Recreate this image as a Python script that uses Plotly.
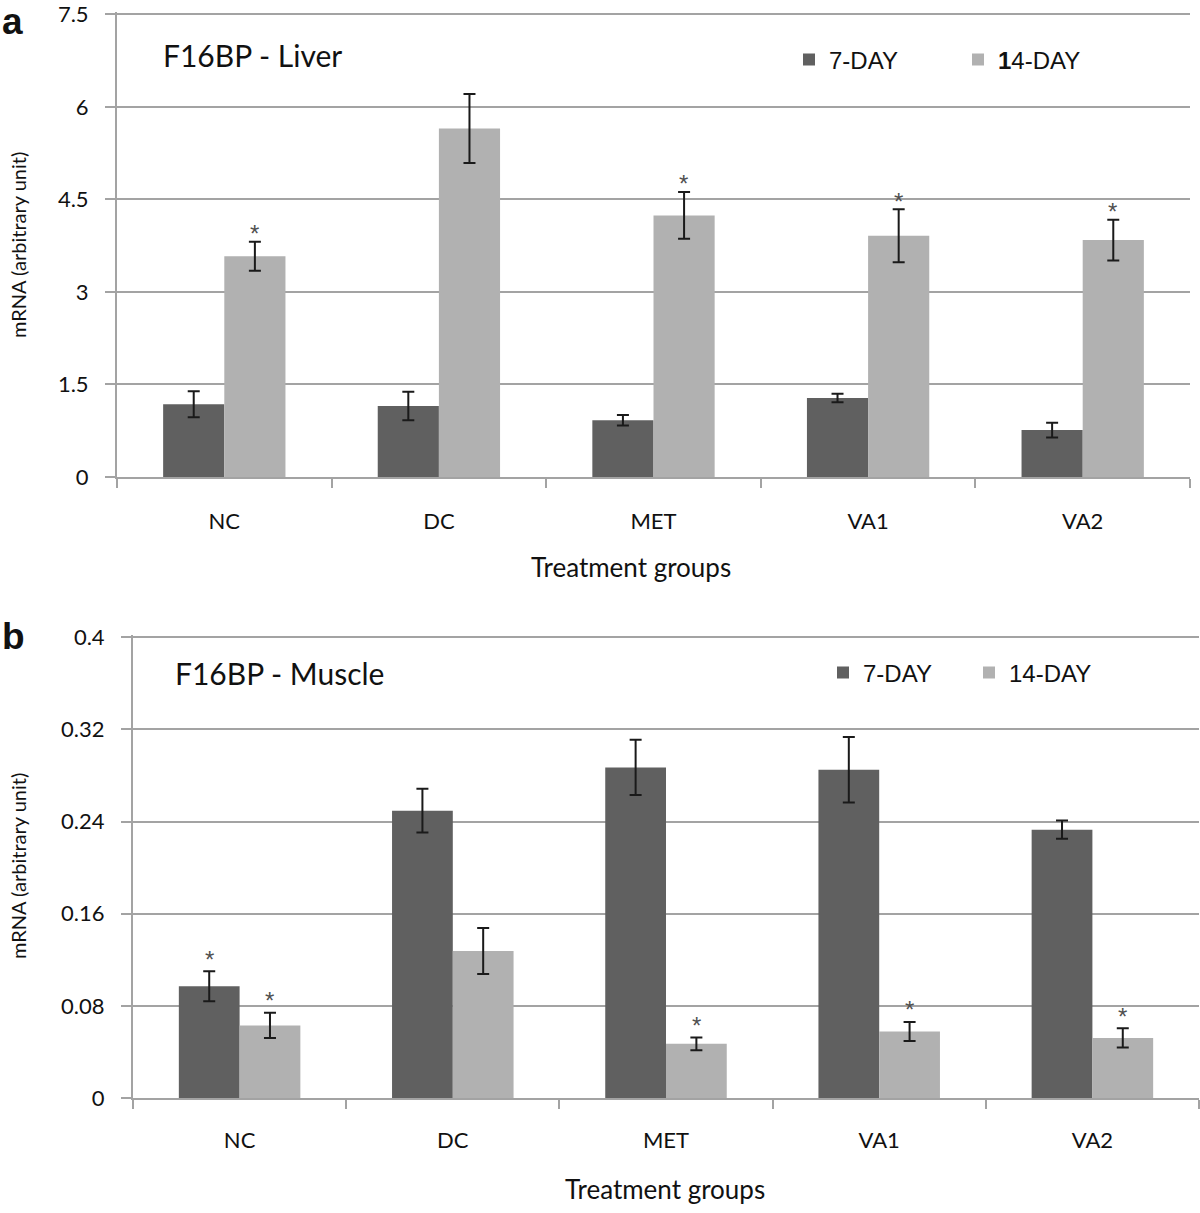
import plotly.graph_objects as go

groups = ["NC", "DC", "MET", "VA1", "VA2"]

# Panel a: F16BP - Liver
liver_7 = [1.18, 1.15, 0.92, 1.28, 0.76]
liver_7_err = [0.21, 0.23, 0.085, 0.068, 0.118]
liver_14 = [3.58, 5.65, 4.24, 3.91, 3.84]
liver_14_err = [0.235, 0.56, 0.38, 0.43, 0.33]
liver_7_sig = [False, False, False, False, False]
liver_14_sig = [True, False, True, True, True]

# Panel b: F16BP - Muscle
muscle_7 = [0.097, 0.2495, 0.287, 0.285, 0.233]
muscle_7_err = [0.013, 0.019, 0.024, 0.0285, 0.008]
muscle_14 = [0.063, 0.1276, 0.047, 0.0577, 0.0522]
muscle_14_err = [0.011, 0.02, 0.0055, 0.0083, 0.0083]
muscle_7_sig = [True, False, False, False, False]
muscle_14_sig = [True, False, True, True, True]

liver_ticks = [0, 1.5, 3, 4.5, 6, 7.5]
muscle_ticks = [0, 0.08, 0.16, 0.24, 0.32, 0.4]

DARK = "#606060"
LIGHT = "#b1b1b1"
GRID = "#a3a3a3"
FONT = "Lato"
W, H = 1200, 1213


def px(x):
    return x / W


def py(y):
    return 1 - y / H


fig = go.Figure()


def add_pair(vals7, err7, vals14, err14, xa, ya, leg):
    fig.add_trace(go.Bar(x=groups, y=vals7, name="7-DAY", marker_color=DARK,
                         marker_line_width=0, xaxis=xa, yaxis=ya, legend=leg,
                         error_y=dict(type="data", array=err7, color="#1a1a1a",
                                      thickness=2, width=6)))
    fig.add_trace(go.Bar(x=groups, y=vals14, name=("<b>1</b>4-DAY" if leg == "legend" else "14-DAY"),
                         marker_color=LIGHT,
                         marker_line_width=0, xaxis=xa, yaxis=ya, legend=leg,
                         error_y=dict(type="data", array=err14, color="#1a1a1a",
                                      thickness=2, width=6)))


add_pair(liver_7, liver_7_err, liver_14, liver_14_err, "x", "y", "legend")
add_pair(muscle_7, muscle_7_err, muscle_14, muscle_14_err, "x2", "y2", "legend2")

annotations = []


def add_stars(vals, errs, sigs, xref, yref, xshift, yshift):
    for g, v, e, s in zip(groups, vals, errs, sigs):
        if s:
            annotations.append(dict(x=g, y=v + e, xref=xref, yref=yref, text="*",
                                    showarrow=False, xshift=xshift, yshift=yshift,
                                    yanchor="middle",
                                    font=dict(family="Liberation Sans", size=24, color="#505050")))


add_stars(liver_7, liver_7_err, liver_7_sig, "x", "y", -31, 8)
add_stars(liver_14, liver_14_err, liver_14_sig, "x", "y", 30, 8)
add_stars(muscle_7, muscle_7_err, muscle_7_sig, "x2", "y2", -30, 12)
add_stars(muscle_14, muscle_14_err, muscle_14_sig, "x2", "y2", 30, 12)


def txt(x, y, text, size, rot=0, bold=False, fam=FONT, xanchor="center", yanchor="middle"):
    annotations.append(dict(x=px(x), y=py(y), xref="paper", yref="paper",
                            text=("<b>%s</b>" % text if bold else text), showarrow=False,
                            textangle=rot, xanchor=xanchor, yanchor=yanchor,
                            font=dict(family=fam, size=size, color="#111111")))


txt(0, 22, "a", 37, bold=True, fam="Liberation Sans", xanchor="left")
txt(0, 636, "b", 37, bold=True, fam="Liberation Sans", xanchor="left")
txt(161, 55, "F16BP - Liver", 30, xanchor="left")
txt(173, 673, "F16BP - Muscle", 30, xanchor="left")
txt(18, 245, "mRNA (arbitrary unit)", 20, rot=-90)
txt(18, 866, "mRNA (arbitrary unit)", 20, rot=-90)
txt(631, 567, "Treatment groups", 26)
txt(665, 1189, "Treatment groups", 26)

axis_common = dict(showline=True, linecolor=GRID, linewidth=2, ticks="outside", automargin=False,
                   tickcolor=GRID, tickwidth=2, ticklabeloverflow="allow",
                   tickfont=dict(family=FONT, size=22, color="#111111"))

fig.update_layout(
    width=W, height=H,
    margin=dict(l=0, r=0, t=0, b=0, autoexpand=False),
    paper_bgcolor="white", plot_bgcolor="white",
    barmode="group", bargap=0.43, bargroupgap=0,
    font=dict(family=FONT, color="#111111"),
    annotations=annotations,
    xaxis=dict(domain=[px(117), px(1190)], anchor="y", tickson="boundaries", ticklen=9,
               ticklabelstandoff=24, showgrid=False, **axis_common),
    yaxis=dict(domain=[py(477), py(12)], anchor="x", range=[0, 7.5 * 1.005],
               tickvals=liver_ticks, ticklen=10, ticklabelstandoff=12,
               showgrid=True, gridcolor=GRID, gridwidth=2, zeroline=False, **axis_common),
    xaxis2=dict(domain=[px(133), px(1199)], anchor="y2", tickson="boundaries", ticklen=9,
                ticklabelstandoff=22, showgrid=False, **axis_common),
    yaxis2=dict(domain=[py(1098), py(635)], anchor="x2", range=[0, 0.4 * 1.005],
                tickvals=muscle_ticks, ticklen=10, ticklabelstandoff=12,
                showgrid=True, gridcolor=GRID, gridwidth=2, zeroline=False, **axis_common),
    legend=dict(orientation="h", x=px(789), y=py(60), xanchor="left", yanchor="middle",
                bgcolor="rgba(0,0,0,0)", font=dict(family="Liberation Sans", size=24, color="#111111"),
                entrywidth=124, entrywidthmode="pixels", traceorder="normal"),
    legend2=dict(orientation="h", x=px(823), y=py(673), xanchor="left", yanchor="middle",
                 bgcolor="rgba(0,0,0,0)", font=dict(family="Liberation Sans", size=24, color="#111111"),
                 entrywidth=101, entrywidthmode="pixels", traceorder="normal"),
    showlegend=True,
)

fig.write_html("out.html",
               config={"displayModeBar": False},
               post_script="document.body.style.margin='0px'; document.body.style.overflow='hidden';")
